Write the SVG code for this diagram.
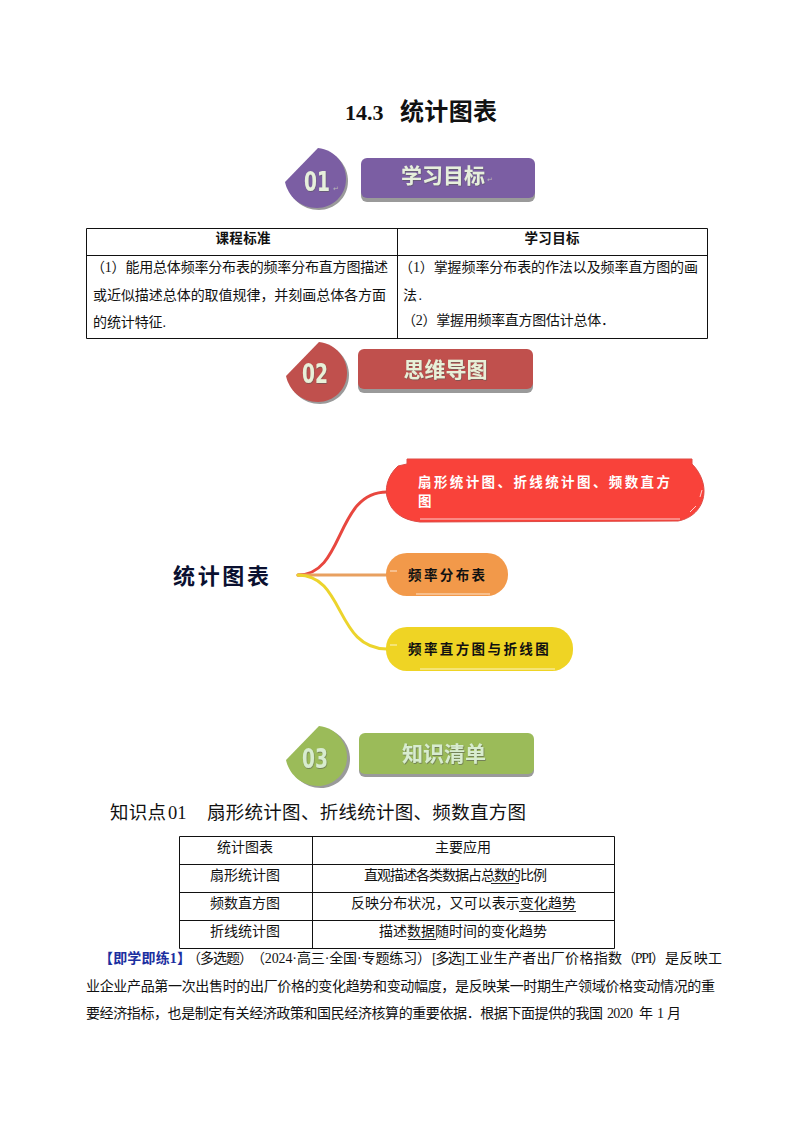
<svg xmlns="http://www.w3.org/2000/svg" width="793" height="1123" viewBox="0 0 793 1123">
<style>
text{font-family:"Liberation Serif","Noto Sans CJK SC",serif;fill:#111}
.b{font-size:14px}
.c{text-anchor:middle}
.h{font-size:13.5px;font-weight:700}
.rule{stroke:#111;stroke-width:1;fill:none}
.ul{stroke:#222;stroke-width:1}
text.ban{font-family:"Noto Sans CJK SC","Noto Sans",sans-serif;font-size:21px;font-weight:700;text-anchor:middle;filter:url(#ts)}
text.num{font-family:"DejaVu Sans",sans-serif;font-size:27px;font-weight:700;text-anchor:middle;filter:url(#ts)}
text.mark{font-family:"DejaVu Sans",sans-serif;font-size:7px;fill:#b9b9b9}
text.l1{fill:#e6efdc}
text.l2{fill:#e8f0d8}
text.l3{fill:#d8eccf}
text.mm{font-family:"Noto Sans CJK SC","Noto Sans",sans-serif;font-weight:700;font-size:13.5px;letter-spacing:2.4px}
text.w{fill:#fff}
.lnk{fill:none;stroke-width:3;stroke-linecap:round}
.sk{fill:none;stroke:#fff;stroke-width:1;opacity:.75}
</style>
<defs>
<filter id="ts" x="-10%" y="-10%" width="120%" height="120%"><feDropShadow dx="0.6" dy="0.8" stdDeviation="0.4" flood-color="#555" flood-opacity=".7"/></filter>
<path id="drop" d="M33 0C50 2 61 16 61 31C61 48 47 60 32 60C15 60 3 48 0 34Z"/>
</defs>
<rect width="793" height="1123" fill="#fff"/>

<g id="title"><text x="345" y="120" font-size="22" font-weight="700">14.3</text><text x="400" y="120" font-size="24" font-weight="700" textLength="97">统计图表</text></g>

<g id="badge-01">
<use href="#drop" x="287" y="150" fill="#9a9a9a"/><use href="#drop" x="285" y="148" fill="#7b5ea3"/>
<text class="num l1" transform="translate(317 191) scale(.69 1)">01</text>
<text class="mark" x="333" y="191">↵</text>
</g>
<g id="heading-01">
<rect x="361" y="161" width="174" height="41" rx="6" fill="#9a9a9a"/><rect x="361" y="158" width="174" height="40" rx="6" fill="#7b5ea3"/>
<text class="ban l1" x="443" y="183" textLength="84">学习目标</text>
<text class="mark" x="487" y="182">↵</text>
</g>

<g id="table-1">
<path class="rule" d="M86.500 228.500H707.500V338.500H86.500ZM86.500 255.500H707.500M397.500 228.500V338.500"/>
<text class="h c" x="243" y="243" textLength="55">课程标准</text>
<text class="h c" x="552" y="243" textLength="55">学习目标</text>
<text class="b" x="91" y="272" textLength="297">（1）能用总体频率分布表的频率分布直方图描述</text>
<text class="b" x="93" y="300" textLength="293">或近似描述总体的取值规律，并刻画总体各方面</text>
<text class="b" x="93" y="327" textLength="73">的统计特征.</text>
<text class="b" x="399" y="272" textLength="299">（1）掌握频率分布表的作法以及频率直方图的画</text>
<text class="b" x="403" y="300" textLength="19">法.</text>
<text class="b" x="402" y="325" textLength="213">（2）掌握用频率直方图估计总体．</text>
</g>

<g id="badge-02">
<use href="#drop" x="288" y="344" fill="#9a9a9a"/><use href="#drop" x="286" y="342" fill="#c0504d"/>
<text class="num l2" transform="translate(315 383) scale(.69 1)">02</text>
</g>
<g id="heading-02">
<rect x="358" y="352" width="175" height="41" rx="6" fill="#9a9a9a"/><rect x="358" y="349" width="175" height="40" rx="6" fill="#c0504d"/>
<text class="ban l2" x="445.500" y="377" textLength="84">思维导图</text>
</g>

<g id="connectors">
<path class="lnk" stroke="#e8473f" d="M298 575C345 575 335 492 387 492"/>
<path class="lnk" stroke="#e8a060" d="M298 575H387"/>
<path class="lnk" stroke="#ecd42c" d="M298 575C345 575 335 649 387 649"/>
</g>

<g id="mind-root"><text x="173" y="584" style="font-family:'Noto Sans CJK SC',sans-serif;fill:#0a1030" font-size="22" font-weight="700" textLength="96">统计图表</text></g>
<g id="mind-red">
<path fill="#f9423a" stroke="#dd4b45" stroke-width="1" d="M407 459H692L692 464C700 472 704 482 704 491C704 506 694 518 678 521L420 522C402 520 392 512 388 500C384 490 387 476 398 466L407 464Z"/>
<path class="sk" d="M420 519H680M690 512L696 506M700 497L702 490"/>
<text class="mm w" x="418" y="487">扇形统计图、折线统计图、频数直方</text>
<text class="mm w" x="418" y="506">图</text>
</g>
<g id="mind-orange">
<rect x="386" y="553" width="122" height="43" rx="21" fill="#f2994a"/>
<path class="sk" d="M390 571H397M416 594H490"/>
<text class="mm" x="408" y="580">频率分布表</text>
</g>
<g id="mind-yellow">
<rect x="386" y="627" width="187" height="44" rx="21" fill="#efd424"/>
<path class="sk" d="M390 645H397M420 669H555"/>
<text class="mm" x="408" y="654">频率直方图与折线图</text>
</g>

<g id="badge-03">
<use href="#drop" x="289" y="728" fill="#9a9a9a"/><use href="#drop" x="286" y="726" fill="#9bbb59"/>
<text class="num l3" transform="translate(315 768) scale(.69 1)">03</text>
</g>
<g id="heading-03">
<rect x="359" y="736" width="175" height="41" rx="6" fill="#9a9a9a"/><rect x="359" y="733" width="175" height="41" rx="6" fill="#9bbb59"/>
<text class="ban l3" x="444" y="761" textLength="84">知识清单</text>
</g>

<g id="section-heading">
<text x="110" y="819" font-size="18.500" textLength="56">知识点</text>
<text x="168" y="819" font-size="18.500">01</text>
<text x="207" y="819" font-size="18.500" textLength="319">扇形统计图、折线统计图、频数直方图</text>
</g>

<g id="table-2">
<path class="rule" d="M179.500 836.500H614.500V948.500H179.500ZM179.500 864.500H614.500M179.500 892.500H614.500M179.500 920.500H614.500M312.500 836.500V948.500"/>
<text class="b c" x="245" y="852" textLength="56">统计图表</text>
<text class="b c" x="463" y="852" textLength="56">主要应用</text>
<text class="b c" x="245" y="880" textLength="70">扇形统计图</text>
<text class="b" x="364" y="880" textLength="183">直观描述各类数据占总数的比例</text>
<text class="b c" x="245" y="908" textLength="70">频数直方图</text>
<text class="b" x="351" y="908" textLength="225">反映分布状况，又可以表示变化趋势</text>
<text class="b c" x="245" y="936" textLength="70">折线统计图</text>
<text class="b" x="379" y="936" textLength="168">描述数据随时间的变化趋势</text>
<path class="ul" d="M491 883.500H519M519 911.500H576M408 939.500H436"/>
</g>

<g id="paragraph">
<text class="b" x="99" y="963" font-weight="700" style="fill:#1c2fa0" textLength="92">【即学即练1】</text>
<text class="b" x="187" y="963" textLength="66">（多选题）</text>
<text class="b" x="251" y="963" textLength="180">（2024·高三·全国·专题练习）</text>
<text class="b" x="432" y="963" textLength="33">[多选]</text>
<text class="b" x="465" y="963" textLength="157">工业生产者出厂价格指数</text>
<text class="b" x="622" y="963" textLength="43">（PPI）</text>
<text class="b" x="665" y="963" textLength="57">是反映工</text>
<text class="b" x="86" y="991" textLength="629">业企业产品第一次出售时的出厂价格的变化趋势和变动幅度，是反映某一时期生产领域价格变动情况的重</text>
<text class="b" x="86" y="1018" textLength="517">要经济指标，也是制定有关经济政策和国民经济核算的重要依据．根据下面提供的我国</text>
<text class="b" x="607" y="1018" textLength="26">2020</text>
<text class="b" x="639" y="1018">年</text>
<text class="b" x="657" y="1018">1</text>
<text class="b" x="667" y="1018">月</text>
</g>
</svg>
